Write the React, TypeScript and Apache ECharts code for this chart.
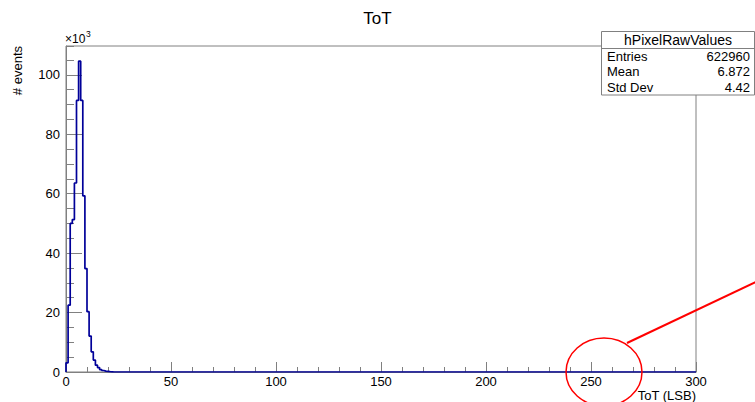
import React, { useEffect, useRef } from "react";
import * as echarts from "echarts";

// ToT histogram, 1 LSB bins from 0 to 300, counts in thousands (x10^3)
const binCount = 300;
const xMin = 0;
const xMax = 300;
const yMax = 109.7;
const headCounts = [
  3.1, 22.5, 50.0, 51.3, 63.6, 91.4, 104.6, 91.4, 59.3, 34.8,
  20.3, 12.1, 6.8, 4.0, 2.3, 1.5, 0.8, 0.5, 0.3, 0.2,
  0.1, 0.05,
];
const counts: number[] = headCounts.concat(new Array(binCount - headCounts.length).fill(0));

const xTicks = [0, 50, 100, 150, 200, 250, 300];
const yTicks = [0, 20, 40, 60, 80, 100];

const statsTitle = "hPixelRawValues";
const statsLabels = ["Entries", "Mean", "Std Dev"];
const statsValues = ["622960", "6.872", "4.42"];

const FONT = "'Liberation Sans', Arial, Helvetica, sans-serif";
const GRAY = "#808080";

export default function App() {
  const ref = useRef<HTMLDivElement>(null);
  useEffect(() => {
    if (!ref.current) return;
    const chart = echarts.init(ref.current, undefined, { renderer: "svg" });

    const stepData: number[][] = [[xMin, 0]];
    counts.forEach((v, i) => stepData.push([i, v]));
    stepData.push([xMax, 0]);

    const rowTop = 49;
    const rowH = 15.3;
    const statsGraphics: any[] = [
      {
        type: "rect",
        z: 100,
        shape: { x: 601.5, y: 31.5, width: 153, height: 63.5 },
        style: { fill: "#fff", stroke: GRAY, lineWidth: 1 },
      },
      {
        type: "line",
        z: 101,
        shape: { x1: 601.5, y1: 48.5, x2: 755, y2: 48.5 },
        style: { stroke: GRAY, lineWidth: 1 },
      },
      {
        type: "text",
        z: 101,
        x: 678,
        y: 40,
        style: { text: statsTitle, fontSize: 14, fontFamily: FONT, fill: "#000", align: "center", verticalAlign: "middle" },
      },
    ];
    statsLabels.forEach((lab, i) => {
      const cy = rowTop + rowH * (i + 0.5);
      statsGraphics.push({
        type: "text",
        z: 101,
        x: 607,
        y: cy,
        style: { text: lab, fontSize: 13, fontFamily: FONT, fill: "#000", align: "left", verticalAlign: "middle" },
      });
      statsGraphics.push({
        type: "text",
        z: 101,
        x: 750,
        y: cy,
        style: { text: statsValues[i], fontSize: 13, fontFamily: FONT, fill: "#000", align: "right", verticalAlign: "middle" },
      });
    });

    chart.setOption({
      animation: false,
      backgroundColor: "#fff",
      title: {
        text: "ToT",
        left: "center",
        top: 5,
        textStyle: { fontSize: 17, fontWeight: "normal", fontFamily: FONT, color: "#000" },
      },
      grid: {
        left: 66,
        right: 59,
        top: 46,
        bottom: 30,
        show: true,
        borderColor: GRAY,
        borderWidth: 1,
        backgroundColor: "transparent",
      },
      xAxis: {
        type: "value",
        min: xMin,
        max: xMax,
        interval: 50,
        axisLine: { show: true, lineStyle: { color: GRAY, width: 1 } },
        axisTick: { show: true, inside: true, length: 10, lineStyle: { color: GRAY } },
        minorTick: { show: true, splitNumber: 5, length: 5, lineStyle: { color: GRAY } },
        splitLine: { show: false },
        axisLabel: {
          margin: 3,
          fontSize: 13,
          fontFamily: FONT,
          color: "#000",
          formatter: (v: number) => (xTicks.includes(v) ? String(v) : ""),
        },
      },
      yAxis: [
        {
          type: "value",
          min: 0,
          max: yMax,
          interval: 20,
          axisLine: { show: true, lineStyle: { color: GRAY, width: 1 } },
          axisTick: { show: true, inside: true, length: 16, lineStyle: { color: GRAY } },
          splitLine: { show: false },
          axisLabel: {
            margin: 6,
            fontSize: 13,
            fontFamily: FONT,
            color: "#000",
            showMaxLabel: false,
            formatter: (v: number) => (yTicks.includes(v) ? String(v) : ""),
          },
        },
        {
          type: "value",
          position: "left",
          min: 0,
          max: yMax,
          interval: 5,
          axisLine: { show: false },
          axisTick: { show: true, inside: true, length: 8, lineStyle: { color: GRAY } },
          splitLine: { show: false },
          axisLabel: { show: false },
        },
      ],
      series: [
        {
          type: "line",
          step: "end",
          data: stepData,
          showSymbol: false,
          symbol: "none",
          clip: true,
          z: 5,
          lineStyle: { color: "#000099", width: 1.7 },
        },
      ],
      graphic: [
        {
          type: "text",
          x: 17,
          y: 46,
          rotation: Math.PI / 2,
          style: { text: "# events", fontSize: 13, fontFamily: FONT, fill: "#000", align: "right", verticalAlign: "middle" },
        },
        {
          type: "text",
          x: 696,
          y: 395.5,
          style: { text: "ToT (LSB)", fontSize: 13, fontFamily: FONT, fill: "#000", align: "right", verticalAlign: "middle" },
        },
        {
          type: "text",
          x: 65,
          y: 39,
          style: { text: "×10", fontSize: 12, fontFamily: FONT, fill: "#000", align: "left", verticalAlign: "middle" },
        },
        {
          type: "text",
          x: 86,
          y: 34,
          style: { text: "3", fontSize: 8.5, fontFamily: FONT, fill: "#000", align: "left", verticalAlign: "middle" },
        },
        ...statsGraphics,
        {
          type: "ellipse",
          z: 110,
          shape: { cx: 604, cy: 372, rx: 38, ry: 34 },
          style: { fill: "none", stroke: "#ff0000", lineWidth: 1.5 },
        },
        {
          type: "line",
          z: 110,
          shape: { x1: 627, y1: 343, x2: 756, y2: 282 },
          style: { stroke: "#ff0000", lineWidth: 2 },
        },
      ],
    });
    return () => chart.dispose();
  }, []);
  return <div ref={ref} style={{ position: "fixed", left: 0, top: 0, width: 755, height: 402 }} />;
}
